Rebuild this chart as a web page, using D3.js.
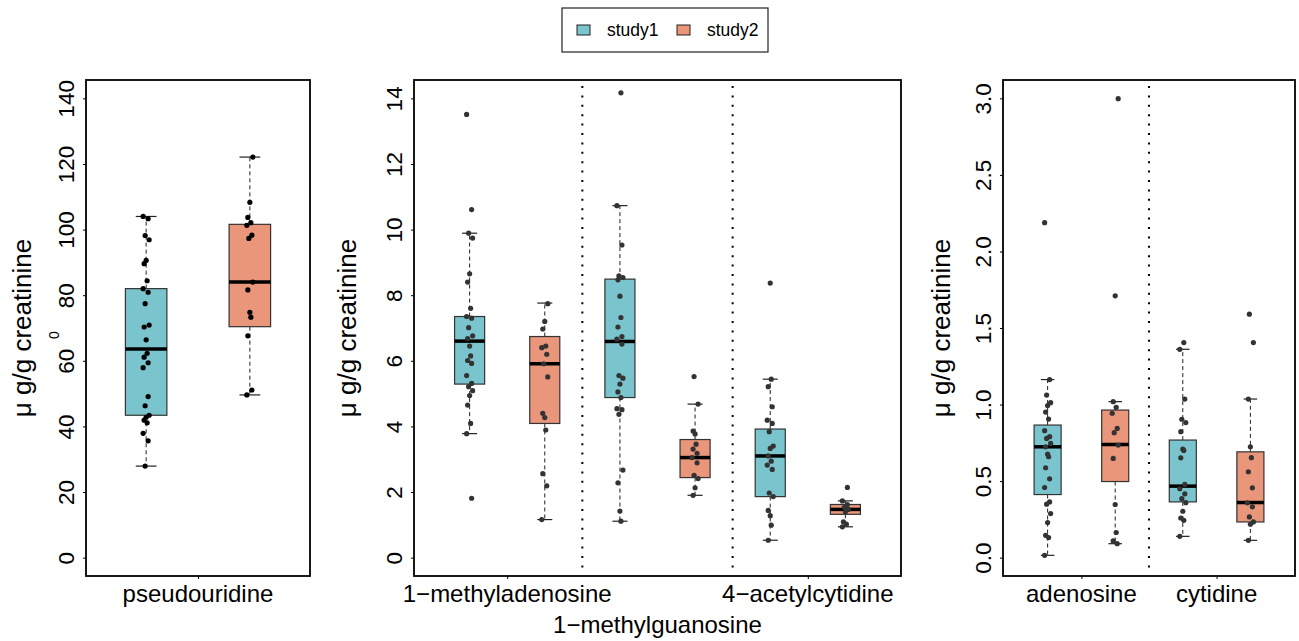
<!DOCTYPE html>
<html>
<head>
<meta charset="utf-8">
<script src="https://cdn.jsdelivr.net/npm/d3@7"></script>
<style>
  body { margin: 0; background: #fff; }
  svg { display: block; font-family: "Liberation Sans", Arial, sans-serif; }
</style>
</head>
<body>
<svg id="chart" width="1299" height="641"></svg>
<script>
var seriesNames = ["study1", "study2"];
var seriesColors = ["#7AC5CD", "#E9967A"];
var yTitle = "\u03bc g/g creatinine";

// box stats: [lower whisker, q1, median, q3, upper whisker]
var pseudouridineBox1 = [27.9, 43.4, 63.6, 82.0, 104.0];
var pseudouridineVals1 = [104.0, 103.3, 98.2, 96.9, 90.6, 89.6, 84.4, 82.0, 80.9, 77.4, 70.9, 70.3, 66.4,
  62.3, 61.1, 59.4, 57.9, 49.1, 46.3, 43.4, 42.8, 41.9, 41.1, 37.9, 35.6, 27.9];
var pseudouridineBox2 = [49.6, 70.4, 84.0, 101.6, 122.1];
var pseudouridineVals2 = [122.1, 108.3, 103.7, 102.1, 101.3, 98.3, 97.3, 84.0, 81.6, 74.8, 73.3, 67.6, 51.1, 49.6];

var methyladenosineBox1 = [3.78, 5.29, 6.60, 7.35, 9.89];
var methyladenosineVals1 = [13.51, 10.61, 9.89, 9.74, 8.65, 8.40, 7.60, 7.35, 7.30, 7.01, 6.76, 6.68, 6.45,
  6.15, 6.01, 5.92, 5.55, 5.31, 5.21, 5.09, 4.94, 4.65, 4.09, 3.78, 1.81];
var methyladenosineBox2 = [1.16, 4.09, 5.91, 6.74, 7.76];
var methyladenosineVals2 = [7.74, 7.20, 6.97, 6.45, 6.40, 6.20, 5.91, 5.51, 4.40, 4.27, 3.89, 2.56, 2.19, 1.16];

var methylguanosineBox1 = [1.11, 4.88, 6.59, 8.49, 10.73];
var methylguanosineVals1 = [14.17, 10.73, 9.53, 8.59, 8.54, 8.47, 7.97, 7.32, 7.03, 6.74, 6.66, 6.51, 5.55,
  5.47, 5.29, 5.05, 4.88, 4.54, 4.51, 4.37, 2.67, 2.28, 1.42, 1.11];
var methylguanosineBox2 = [1.90, 2.44, 3.05, 3.60, 4.68];
var methylguanosineVals2 = [5.52, 4.68, 3.86, 3.77, 3.46, 3.31, 3.18, 3.05, 2.89, 2.51, 2.41, 2.13, 1.90];

var acetylcytidineBox1 = [0.53, 1.86, 3.10, 3.92, 5.44];
var acetylcytidineVals1 = [8.37, 5.44, 5.21, 4.60, 4.19, 4.09, 3.84, 3.40, 3.33, 3.10, 2.94, 2.82, 2.69,
  1.97, 1.86, 1.44, 1.28, 0.99, 0.53];
var acetylcytidineBox2 = [0.94, 1.32, 1.47, 1.62, 1.73];
var acetylcytidineVals2 = [2.14, 1.73, 1.62, 1.53, 1.47, 1.40, 1.09, 1.02, 0.94];

var adenosineBox1 = [0.015, 0.412, 0.724, 0.866, 1.163];
var adenosineVals1 = [2.188, 1.163, 1.062, 1.012, 0.993, 0.951, 0.905, 0.829, 0.790, 0.779, 0.746, 0.724,
  0.676, 0.659, 0.587, 0.515, 0.458, 0.364, 0.349, 0.288, 0.229, 0.146, 0.131, 0.015];
var adenosineBox2 = [0.091, 0.497, 0.739, 0.964, 1.019];
var adenosineVals2 = [2.998, 1.710, 1.019, 0.982, 0.943, 0.844, 0.816, 0.735, 0.648, 0.347, 0.164, 0.109, 0.091];

var cytidineBox1 = [0.139, 0.364, 0.467, 0.768, 1.361];
var cytidineVals1 = [1.405, 1.361, 1.036, 0.904, 0.882, 0.823, 0.709, 0.700, 0.652, 0.478, 0.450, 0.417,
  0.385, 0.359, 0.303, 0.259, 0.244, 0.139];
var cytidineBox2 = [0.113, 0.233, 0.360, 0.691, 1.036];
var cytidineVals2 = [1.590, 1.405, 1.036, 0.724, 0.653, 0.561, 0.456, 0.358, 0.332, 0.266, 0.233, 0.218, 0.113];

var leftTicks = [0, 20, 40, 60, 80, 100, 120, 140];
var middleTicks = [0, 2, 4, 6, 8, 10, 12, 14];
var rightTicks = [0, 0.5, 1.0, 1.5, 2.0, 2.5, 3.0];

var leftNames = ["pseudouridine"];
var middleNames = ["1\u2212methyladenosine", "1\u2212methylguanosine", "4\u2212acetylcytidine"];
var rightNames = ["adenosine", "cytidine"];

(function() {
  // ---- layout ----
  var plotTop = 80, plotBottom = 576;
  var jitter = [-3, 2, -1, 3, 0, -2, 1, -3, 2, -1, 3, -2, 0, 1, -2, 2];

  var panels = [
    { left: 86, right: 310, yMax: 140, ticks: leftTicks, fmt: d3.format("d"), titleX: 31, names: leftNames,
      pointColor: "#000",
      boxes: [[pseudouridineBox1, pseudouridineVals1], [pseudouridineBox2, pseudouridineVals2]] },
    { left: 414, right: 901, yMax: 14, ticks: middleTicks, fmt: d3.format("d"), titleX: 356, names: middleNames,
      pointColor: "#333",
      boxes: [[methyladenosineBox1, methyladenosineVals1], [methyladenosineBox2, methyladenosineVals2],
              [methylguanosineBox1, methylguanosineVals1], [methylguanosineBox2, methylguanosineVals2],
              [acetylcytidineBox1, acetylcytidineVals1], [acetylcytidineBox2, acetylcytidineVals2]] },
    { left: 1003, right: 1295, yMax: 3, ticks: rightTicks, fmt: d3.format(".1f"), titleX: 950, names: rightNames,
      pointColor: "#333",
      boxes: [[adenosineBox1, adenosineVals1], [adenosineBox2, adenosineVals2],
              [cytidineBox1, cytidineVals1], [cytidineBox2, cytidineVals2]] }
  ];

  var svg = d3.select("#chart");

  panels.forEach(function(p, pi) {
    var n = p.boxes.length;
    var x = d3.scaleLinear()
      .domain([0.5 - 0.04 * n, n + 0.5 + 0.04 * n])
      .range([p.left, p.right]);
    var y = d3.scaleLinear()
      .domain([-0.04 * p.yMax, p.yMax * 1.04])
      .range([plotBottom, plotTop]);
    var g = svg.append("g");
    var bw = 0.4;

    // dotted dividers between metabolites
    for (var k = 2; k < n; k += 2) {
      g.append("line")
        .attr("x1", x(k + 0.5)).attr("x2", x(k + 0.5))
        .attr("y1", plotTop + 6).attr("y2", plotBottom - 2)
        .attr("stroke", "#000").attr("stroke-width", 2)
        .attr("stroke-dasharray", "2,7.4");
    }

    p.boxes.forEach(function(b, bi) {
      var s = b[0], vals = b[1], pos = bi + 1;
      var col = seriesColors[bi % 2];
      var bg = g.append("g");
      // whiskers
      bg.append("line")
        .attr("x1", x(pos)).attr("x2", x(pos))
        .attr("y1", y(s[3])).attr("y2", y(s[4]))
        .attr("stroke", "#222").attr("stroke-dasharray", "4,3");
      bg.append("line")
        .attr("x1", x(pos)).attr("x2", x(pos))
        .attr("y1", y(s[1])).attr("y2", y(s[0]))
        .attr("stroke", "#222").attr("stroke-dasharray", "4,3");
      [s[0], s[4]].forEach(function(v) {
        bg.append("line")
          .attr("x1", x(pos - bw / 4)).attr("x2", x(pos + bw / 4))
          .attr("y1", y(v)).attr("y2", y(v))
          .attr("stroke", "#222").attr("stroke-width", 1.2);
      });
      bg.append("rect")
        .attr("x", x(pos - bw / 2))
        .attr("width", x(pos + bw / 2) - x(pos - bw / 2))
        .attr("y", y(s[3]))
        .attr("height", y(s[1]) - y(s[3]))
        .attr("fill", col)
        .attr("stroke", "#333").attr("stroke-width", 1.2);
      bg.append("line")
        .attr("x1", x(pos - bw / 2)).attr("x2", x(pos + bw / 2))
        .attr("y1", y(s[2])).attr("y2", y(s[2]))
        .attr("stroke", "#000").attr("stroke-width", 3.5);

      bg.selectAll("circle")
        .data(vals)
        .join("circle")
          .attr("cx", function(d, i) { return x(pos) + jitter[(i + bi * 3) % jitter.length]; })
          .attr("cy", function(d) { return y(d); })
          .attr("r", 2.6)
          .attr("fill", p.pointColor);
    });

    // frame
    g.append("rect")
      .attr("x", p.left).attr("y", plotTop)
      .attr("width", p.right - p.left).attr("height", plotBottom - plotTop)
      .attr("fill", "none").attr("stroke", "#000").attr("stroke-width", 1.8);

    // y axis
    var ya = g.append("g")
      .attr("transform", "translate(" + p.left + ",0)")
      .call(d3.axisLeft(y).tickValues(p.ticks).tickSize(3).tickFormat(p.fmt));
    ya.select(".domain").remove();
    ya.selectAll("line").attr("stroke", "#000");
    ya.selectAll("text")
      .attr("x", null).attr("dy", null)
      .attr("transform", "translate(-12,0) rotate(-90)")
      .attr("text-anchor", "middle")
      .attr("fill", "#000")
      .style("font-size", "22.5px")
      .style("font-family", "Liberation Sans, Arial, sans-serif");

    // x axis: labels centred between the two studies
    var labelPos = p.names.map(function(d, i) { return 2 * i + 1.5; });
    var tickPos = labelPos.filter(function(d, i) { return p.names.length < 3 || i !== 1; });
    var xa = g.append("g")
      .attr("transform", "translate(0," + plotBottom + ")")
      .call(d3.axisBottom(x).tickValues(tickPos).tickSize(3).tickFormat(""));
    xa.select(".domain").remove();
    xa.selectAll("line").attr("stroke", "#000");

    p.names.forEach(function(name, i) {
      var second = p.names.length === 3 && i === 1;
      g.append("text")
        .attr("x", x(labelPos[i]))
        .attr("y", second ? 633 : 602)
        .attr("text-anchor", "middle")
        .style("font-size", "24px")
        .text(name);
    });

    // y title
    g.append("text")
      .attr("transform", "translate(" + p.titleX + "," + ((plotTop + plotBottom) / 2) + ") rotate(-90)")
      .attr("text-anchor", "middle")
      .style("font-size", "26px")
      .text(yTitle);
    if (pi === 0) {
      g.append("text")
        .attr("transform", "translate(59,335) rotate(-90)")
        .attr("text-anchor", "middle")
        .style("font-size", "14px")
        .text("0");
    }
  });

  // legend
  var lg = svg.append("g").attr("transform", "translate(562,8)");
  lg.append("rect")
    .attr("width", 206).attr("height", 44)
    .attr("fill", "#fff").attr("stroke", "#222").attr("stroke-width", 1.2);
  var legendItems = lg.selectAll(".item")
    .data(seriesNames)
    .join("g")
      .attr("class", "item")
      .attr("transform", function(d, i) { return "translate(" + (15 + i * 100) + ",0)"; });
  legendItems.append("rect")
    .attr("y", 17).attr("width", 13).attr("height", 10)
    .attr("fill", function(d, i) { return seriesColors[i]; })
    .attr("stroke", "#222");
  legendItems.append("text")
    .attr("x", 30).attr("y", 28)
    .style("font-size", "17.5px")
    .text(function(d) { return d; });
})();
</script>
</body>
</html>
